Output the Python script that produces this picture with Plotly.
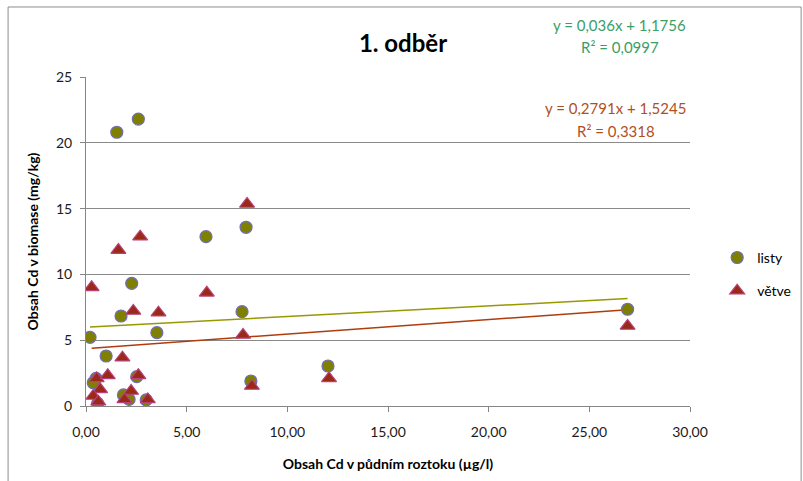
import numpy as np
import plotly.graph_objects as go

# --- data ---
listy_x = [1.53, 2.60, 2.27, 1.74, 0.20, 3.52, 1.00, 0.50, 0.36, 2.52,
           0.58, 1.86, 2.14, 2.99, 5.96, 7.95, 7.75, 8.19, 12.02, 26.9]
listy_y = [20.8, 21.8, 9.32, 6.84, 5.22, 5.57, 3.80, 2.10, 1.77, 2.23,
           0.20, 0.84, 0.50, 0.46, 12.87, 13.58, 7.17, 1.90, 3.04, 7.35]

vetve_x = [2.69, 1.61, 0.28, 2.35, 3.60, 1.81, 0.53, 1.08, 2.60, 0.70, 0.36,
           0.61, 2.24, 1.91, 3.07, 8.00, 6.00, 7.80, 8.24, 12.07, 26.9]
vetve_y = [12.87, 11.85, 9.02, 7.22, 7.09, 3.67, 2.10, 2.33, 2.33, 1.27, 0.76,
           0.33, 1.14, 0.50, 0.50, 15.35, 8.60, 5.40, 1.52, 2.10, 6.08]

series_names = ["listy", "větve"]
eq_listy = ["y = 0,036x + 1,1756", "R² = 0,0997"]
eq_vetve = ["y = 0,2791x + 1,5245", "R² = 0,3318"]
x_ticks = [0, 5, 10, 15, 20, 25, 30]
y_ticks = [0, 5, 10, 15, 20, 25]

FONT = "Lato, Carlito, Calibri, sans-serif"
OLIVE = "#808000"
DARKRED = "#9a2a17"

fig = go.Figure()


def trend(xs, ys):
    k, q = np.polyfit(xs, ys, 1)
    xx = np.array([min(xs), max(xs)])
    return xx, k * xx + q


tx, ty = trend(listy_x, listy_y)
fig.add_trace(go.Scatter(x=tx, y=ty, mode="lines", line=dict(color="#989800", width=1.5),
                         showlegend=False, hoverinfo="skip"))
tx, ty = trend(vetve_x, vetve_y)
fig.add_trace(go.Scatter(x=tx, y=ty, mode="lines", line=dict(color="#b03c0c", width=1.5),
                         showlegend=False, hoverinfo="skip"))

fig.add_trace(go.Scatter(
    x=listy_x, y=listy_y, mode="markers", name=series_names[0], legendgroup="a",
    marker=dict(symbol="circle", size=12, color=OLIVE, line=dict(color="#6e6eb4", width=1.2))))
fig.add_trace(go.Scatter(
    x=vetve_x, y=vetve_y, mode="markers", name=series_names[1], legendgroup="b",
    marker=dict(symbol="triangle-up", size=13, color=DARKRED, line=dict(color="#b8407a", width=1.2))))

# equations
for txt, yy, col, xx in [(eq_listy[0], 1.158, "#3a9e68", 0.884),
                         (eq_listy[1], 1.091, "#3a9e68", 0.884),
                         (eq_vetve[0], 0.905, "#b0501e", 0.877),
                         (eq_vetve[1], 0.836, "#b0501e", 0.877)]:
    fig.add_annotation(x=xx, y=yy, xref="paper", yref="paper", showarrow=False,
                       xanchor="center", yanchor="middle",
                       text=txt, font=dict(family=FONT, size=15, color=col))

# chart border
fig.add_shape(type="rect", xref="paper", yref="paper",
              x0=-0.129, x1=1.184, y0=-0.3, y1=1.2128,
              line=dict(color="#8c8c8c", width=1), fillcolor="rgba(0,0,0,0)")

fig.update_layout(
    width=803, height=481,
    margin=dict(l=86, r=113, t=77, b=75, autoexpand=False),
    paper_bgcolor="white", plot_bgcolor="white",
    separators=", ",
    font=dict(family=FONT, size=14, color="#1a1a1a"),
    title=dict(text="<b>1. odběr</b>", x=403 / 803, xanchor="center",
               y=1 - 44 / 481, yanchor="middle",
               font=dict(family=FONT, size=24, color="black")),
    legend=dict(x=1.045, y=0.40, xref="paper", yref="paper", xanchor="left", yanchor="middle",
                traceorder="grouped", tracegroupgap=12, itemwidth=30,
                font=dict(family=FONT, size=14, color="black"), bgcolor="rgba(0,0,0,0)"),
    showlegend=True,
)

fig.update_xaxes(
    range=[0, 30], tickvals=x_ticks, tickformat=".2f",
    showgrid=False, zeroline=False,
    showline=True, linecolor="#868686", linewidth=1,
    ticks="outside", ticklen=5, tickcolor="#868686", ticklabelstandoff=8,
    tickfont=dict(family=FONT, size=14, color="#1a1a1a"),
    title=dict(text="<b>Obsah Cd v půdním roztoku (µg/l)</b>", standoff=20,
               font=dict(family=FONT, size=14, color="black")),
)
fig.update_yaxes(
    range=[0, 25], tickvals=y_ticks,
    showgrid=True, gridcolor="#8a8a8a", gridwidth=1, zeroline=False,
    showline=True, linecolor="#868686", linewidth=1,
    ticks="outside", ticklen=5, tickcolor="#868686", ticklabelstandoff=5,
    tickfont=dict(family=FONT, size=14, color="#1a1a1a"),
    title=dict(text="<b>Obsah Cd v biomase (mg/kg)</b>", standoff=14,
               font=dict(family=FONT, size=14, color="black")),
)

fig.write_html("out.html")
